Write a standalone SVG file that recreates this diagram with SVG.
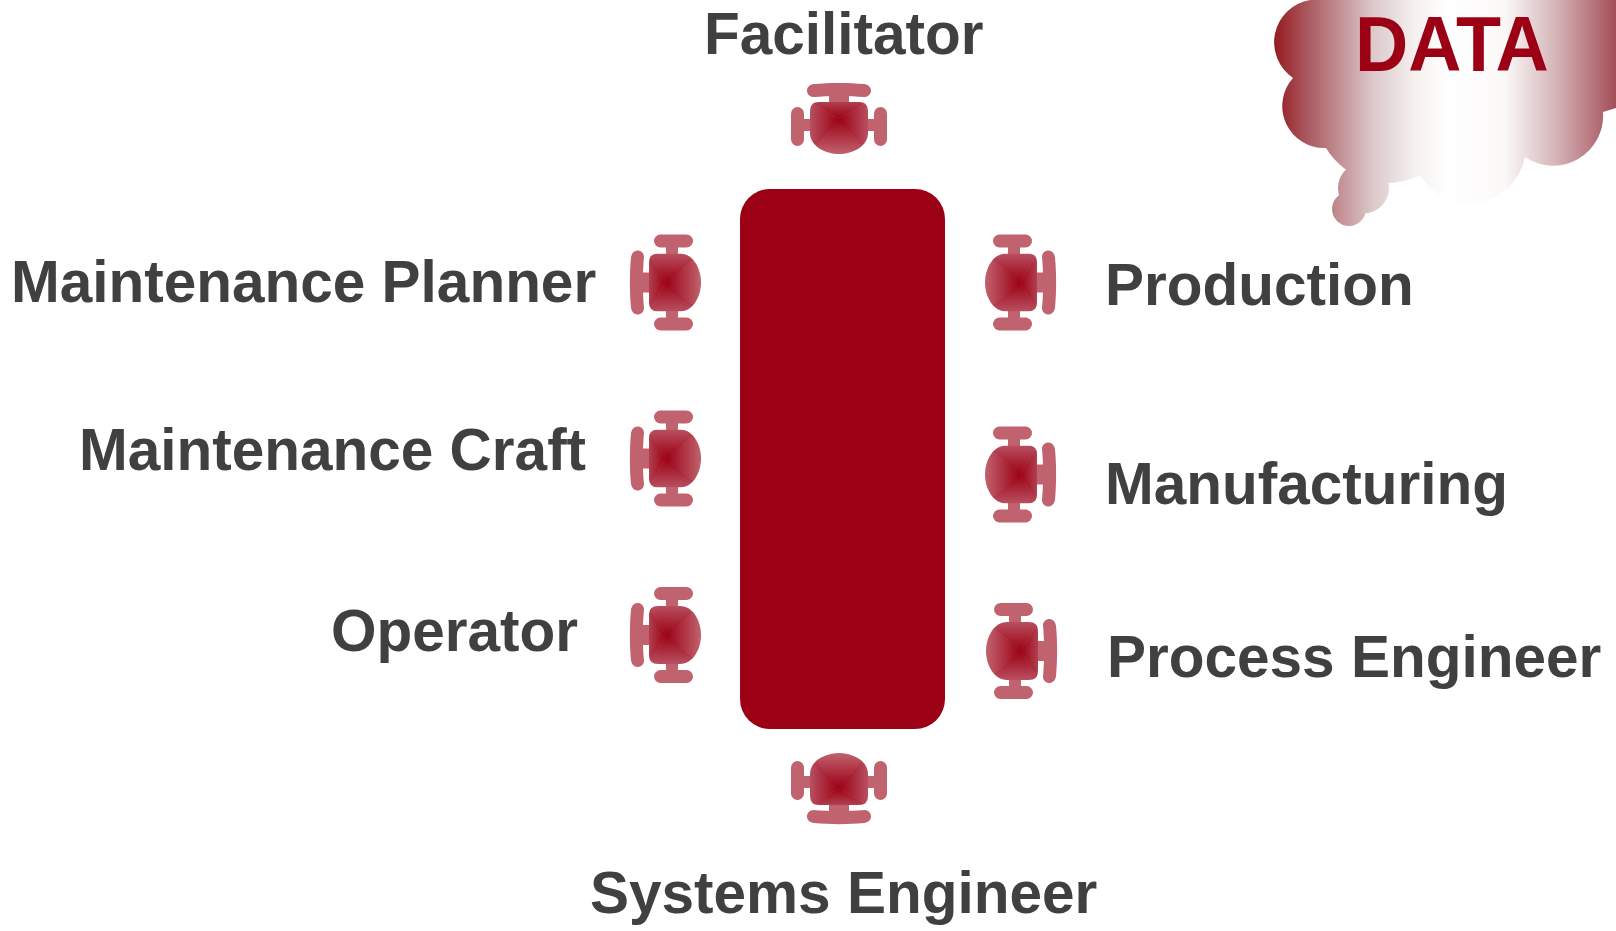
<svg xmlns="http://www.w3.org/2000/svg" width="1616" height="931" viewBox="0 0 1616 931">
<style>
text{font-family:"Liberation Sans",Arial,sans-serif;font-weight:700;font-size:58.5px;fill:#404040}
.d{font-size:78px;fill:#9c0014}
.p{fill:#c1636f}
</style>
<defs>
<linearGradient id="cg" gradientUnits="userSpaceOnUse" x1="1274" y1="0" x2="1640" y2="0">
<stop offset="0" stop-color="#961a20"/><stop offset=".09" stop-color="#a9585f"/><stop offset=".27" stop-color="#dcc8ca"/><stop offset=".38" stop-color="#f3efed"/><stop offset=".47" stop-color="#fff"/><stop offset=".63" stop-color="#fbf9f8"/><stop offset=".77" stop-color="#d5b5b8"/><stop offset=".93" stop-color="#a5505a"/><stop offset="1" stop-color="#9a3038"/>
</linearGradient>
<linearGradient id="gt" gradientUnits="userSpaceOnUse" x1="0" y1="0" x2="0" y2="-17"><stop offset="0" stop-color="#9c0014"/><stop offset="1" stop-color="#b04050"/></linearGradient>
<linearGradient id="gb" gradientUnits="userSpaceOnUse" x1="0" y1="0" x2="0" y2="35"><stop offset="0" stop-color="#9c0014"/><stop offset="1" stop-color="#c1636f"/></linearGradient>
<linearGradient id="gl" gradientUnits="userSpaceOnUse" x1="0" y1="0" x2="-29" y2="0"><stop offset="0" stop-color="#9c0014"/><stop offset="1" stop-color="#b85060"/></linearGradient>
<linearGradient id="gr" gradientUnits="userSpaceOnUse" x1="0" y1="0" x2="29" y2="0"><stop offset="0" stop-color="#9c0014"/><stop offset="1" stop-color="#b85060"/></linearGradient>
<clipPath id="bc"><path d="M-29,-8Q-29,-17 -20,-17L20,-17Q29,-17 29,-8L29,14C29,27 14,35 0,35C-14,35 -29,27 -29,14Z"/></clipPath>
<g id="chair">
<path class="p" d="M-25.5,-22C-29.5,-22 -32,-25 -32,-28.5C-32,-32 -29,-34.5 -25,-35C-10,-36.5 10,-36.5 25,-35C29,-34.5 32,-32 32,-28.5C32,-25 29.5,-22 25.5,-22C10,-23.5 -10,-23.5 -25.5,-22Z"/>
<rect class="p" x="-10" y="-24" width="20" height="8"/>
<rect class="p" x="-48" y="-12" width="13" height="39" rx="6.5"/>
<rect class="p" x="35" y="-12" width="13" height="39" rx="6.5"/>
<rect class="p" x="-36" y="0" width="72" height="12"/>
<g clip-path="url(#bc)">
<path fill="url(#gt)" stroke="url(#gt)" stroke-width=".6" d="M0,0L-30,-18L30,-18Z"/>
<path fill="url(#gb)" stroke="url(#gb)" stroke-width=".6" d="M0,0L30,36L-30,36Z"/>
<path fill="url(#gl)" stroke="url(#gl)" stroke-width=".6" d="M0,0L-30,-18L-30,36Z"/>
<path fill="url(#gr)" stroke="url(#gr)" stroke-width=".6" d="M0,0L30,-18L30,36Z"/>
</g>
</g>
</defs>
<g id="data-cloud">
<path fill="url(#cg)" d="M1310,0A43,43 0 0 0 1293,78A42,42 0 0 0 1326,148A72,72 0 0 0 1420,175A57,57 0 0 0 1525,157A50,50 0 0 0 1603,112L1616,108L1616,0Z"/>
<circle fill="url(#cg)" cx="1363.5" cy="188" r="25.5"/>
<circle fill="url(#cg)" cx="1349" cy="209" r="17"/>
<text class="d" transform="translate(1355,71) scale(.945,1)">DATA</text>
</g>
<g id="table"><rect x="740" y="189" width="205" height="540" rx="30" fill="#9c0014"/></g>
<g id="connectors"/>
<g id="facilitator"><use href="#chair" transform="translate(839,119)"/><text x="704" y="53.5">Facilitator</text></g>
<g id="maintenance-planner"><use href="#chair" transform="translate(666,282.5) rotate(-90)"/><text x="11" y="301.5">Maintenance Planner</text></g>
<g id="maintenance-craft"><use href="#chair" transform="translate(666,458.5) rotate(-90)"/><text x="79" y="469.5">Maintenance Craft</text></g>
<g id="operator"><use href="#chair" transform="translate(666,635) rotate(-90)"/><text x="331" y="650.5">Operator</text></g>
<g id="production"><use href="#chair" transform="translate(1020,282.5) rotate(90)"/><text x="1105" y="304.5">Production</text></g>
<g id="manufacturing"><use href="#chair" transform="translate(1020,474.5) rotate(90)"/><text x="1105" y="503.5">Manufacturing</text></g>
<g id="process-engineer"><use href="#chair" transform="translate(1021,651) rotate(90)"/><text x="1107" y="676.5">Process Engineer</text></g>
<g id="systems-engineer"><use href="#chair" transform="translate(839,788) rotate(180)"/><text x="590" y="912.5">Systems Engineer</text></g>
</svg>
